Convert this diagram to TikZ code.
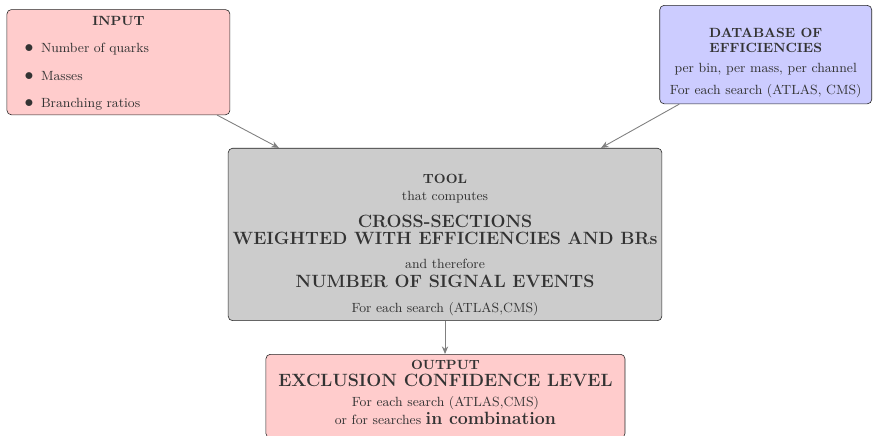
\documentclass[tikz,border=0pt]{standalone}
\usepackage{tikz}
\usepackage{enumitem}
\usetikzlibrary{arrows.meta}

\begin{document}
\begin{tikzpicture}[
    box/.style={draw=black!85, rounded corners=3pt, font=\small, text=black!80,
                inner sep=3pt, anchor=north},
    inbox/.style={box, fill=red!20},
    dbbox/.style={box, fill=blue!20, align=center},
    tlbox/.style={box, fill=gray!40, align=center},
    e/.style={-{Stealth[length=1.8mm, width=1.5mm]}, gray, line width=0.6pt},
  ]
  \useasboundingbox (0,0) rectangle (20.81,-10.34);
  \node[inbox, text width=5.08cm] (input) at (2.81, -0.22) {%
    {\centering\rule{0pt}{7.6pt}\textbf{INPUT}\par}
    \begin{itemize}[leftmargin=20pt, topsep=7.4pt, partopsep=0pt,
                    itemsep=5.6pt, parsep=2pt, label={\large$\bullet$}]
      \item Number of quarks
      \item Masses
      \item Branching ratios\rule[-1.5pt]{0pt}{0pt}
    \end{itemize}};
  \node[dbbox, minimum width=5.03cm] (db) at (18.17, -0.12) {%
    \rule{0pt}{18.5pt}\textbf{DATABASE OF}\\[-1pt]
    \textbf{EFFICIENCIES}\\[2.5pt]
    per bin, per mass, per channel\\[4pt]
    For each search (ATLAS, CMS)\rule[-3.5pt]{0pt}{0pt}};
  \node[tlbox, minimum width=10.15cm] (tool) at (10.56, -3.51) {%
    \rule{0pt}{20.5pt}\textbf{TOOL}\\[1pt]
    that computes\\[7pt]
    {\large\bfseries CROSS-SECTIONS}\\[0.4pt]
    {\large\bfseries WEIGHTED WITH EFFICIENCIES AND BRs}\\[5.3pt]
    and therefore\\[2pt]
    {\large\bfseries NUMBER OF SIGNAL EVENTS}\\[6pt]
    For each search (ATLAS,CMS)};
  \node[inbox, align=center, minimum width=8.52cm] (output) at (10.57, -8.40) {%
    \rule{0pt}{7.5pt}\textbf{OUTPUT}\\[0.5pt]
    {\large\bfseries EXCLUSION CONFIDENCE LEVEL}\\[2.5pt]
    For each search (ATLAS,CMS)\\[1pt]
    or for searches {\large\bfseries in combination}\rule[-6pt]{0pt}{0pt}};
  \draw[e] ([xshift=-0.31cm]input.south east) -- ([xshift=1.21cm]tool.north west);
  \draw[e] ([xshift=0.47cm]db.south west) -- ([xshift=-1.45cm]tool.north east);
  \draw[e] (tool.south) -- (tool.south |- output.north);
\end{tikzpicture}
\end{document}
